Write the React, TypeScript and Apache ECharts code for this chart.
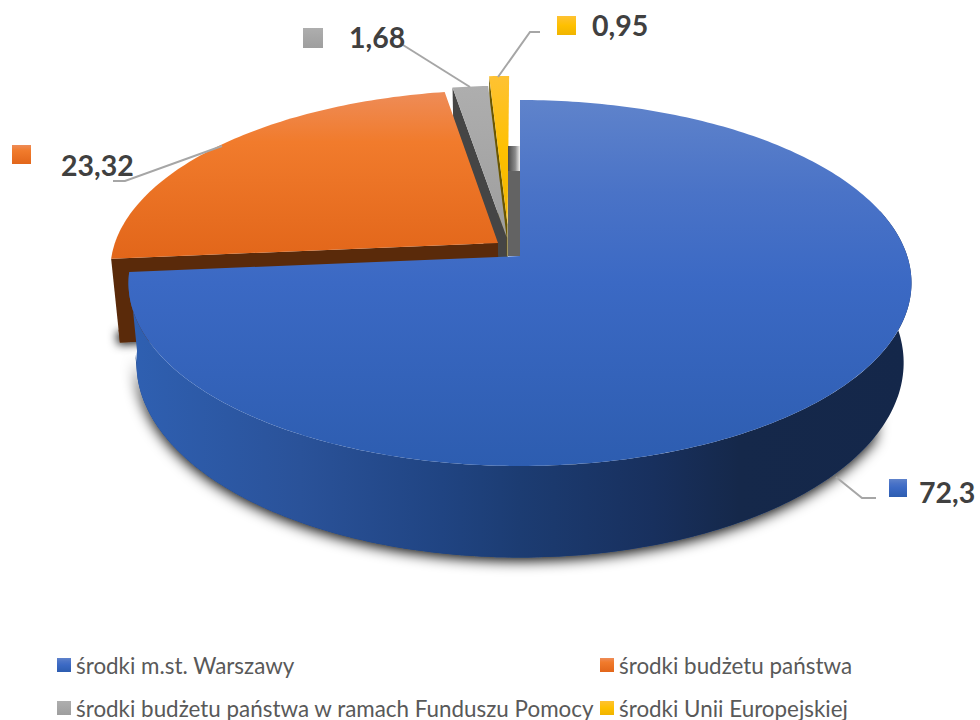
import React, { useEffect, useRef } from "react";
import * as echarts from "echarts";

const categories = [
  "środki m.st. Warszawy",
  "środki budżetu państwa",
  "środki budżetu państwa w ramach Funduszu Pomocy",
  "środki Unii Europejskiej",
];
const values = [72.3, 23.32, 1.68, 0.95];

// Slice styling and layout (not data)
const explosions = [[0, 0], [-0.0575, -0.0734], [-0.035, -0.107], [-0.033, -0.181]];
const seriesZ = [4, 3, 2, 1];
const wallColors = ["", "#5a2a0a", "#454545", "#6a5600"];
const wallHeights = [1, 1.07, 1, 1];
const faceStops: [number, string][][] = [
  [[0, "#5f83cb"], [0.25, "#4a73c7"], [0.5, "#3b69c4"], [1, "#2d5db0"]],
  [[0, "#ee8c58"], [0.3, "#f17b2c"], [1, "#e2661a"]],
  [[0, "#aeaeae"], [1, "#9e9e9e"]],
  [[0, "#fec233"], [0.5, "#fec000"], [1, "#f0b400"]],
];
const labelBoxes = [
  { tx: 919, ty: 492, sx: 889, sy: 479, ss: 18 },
  { tx: 61, ty: 165, sx: 12, sy: 145, ss: 19 },
  { tx: 349, ty: 37, sx: 303, sy: 28, ss: 20 },
  { tx: 592, ty: 25, sx: 557, sy: 16, ss: 19 },
];
const legendSpots = [
  { left: 57, top: 654 },
  { left: 600, top: 654 },
  { left: 57, top: 697 },
  { left: 600, top: 697 },
];
const leaders = [
  [[836, 477], [862, 498], [876, 498]],
  [[113, 181], [125, 181], [222, 146]],
  [[403, 45], [470, 87]],
  [[540, 32], [530, 32], [498, 77]],
];

// Perspective projection of the unit disc on to the page
const CX = 520;
const R = 387.2;
const PA = 141.25;
const PB = 256;
const PC = -0.1475;
const DEPTH = 78;
const SHRINK = 0.02;

function project(u: number, v: number, h: number): [number, number] {
  const w = 1 / (1 + PC * v);
  const x = R * u * w;
  const y = (PA * v + PB) * w;
  return [CX + x * (1 - SHRINK * h), y + DEPTH * w * h];
}

const total = values.reduce((a, b) => a + b, 0);

function grad(stops: [number, string][]) {
  return new echarts.graphic.LinearGradient(
    0, 0, 0, 1,
    stops.map(([offset, color]) => ({ offset, color }))
  );
}

function wallFill() {
  return new echarts.graphic.LinearGradient(0, 0, 1, 0, [
    { offset: 0, color: "#2f60b2" },
    { offset: 0.22, color: "#2a5299" },
    { offset: 0.4, color: "#204482" },
    { offset: 0.5, color: "#1c3c72" },
    { offset: 0.67, color: "#18305e" },
    { offset: 0.78, color: "#15284a" },
    { offset: 1, color: "#14274a" },
  ]);
}

function makeRenderItem(index: number) {
  return (_params: any, api: any) => {
    const value = api.value(0);
    const before = values.slice(0, index).reduce((a, b) => a + b, 0);
    const a0 = (before / total) * 360;
    const a1 = a0 + (value / total) * 360;
    const [du, dv] = explosions[index];
    const rim = (deg: number, h: number) => {
      const t = (deg * Math.PI) / 180;
      return project(Math.sin(t) + du, -Math.cos(t) + dv, h);
    };
    const arc = (from: number, to: number, h: number) => {
      const pts: [number, number][] = [];
      const n = Math.max(2, Math.ceil(Math.abs(to - from)));
      for (let i = 0; i <= n; i++) pts.push(rim(from + ((to - from) * i) / n, h));
      return pts;
    };
    const apexTop = project(du, dv, 0);
    const wallH = wallHeights[index];
    const apexBottom = project(du, dv, wallH);
    const children: any[] = [];

    if (index === 0) {
      // gap shadow behind the centre
      children.push({
        type: "polygon",
        shape: {
          points: [
            [apexTop[0] - 12, apexTop[1] - 86],
            [apexTop[0], apexTop[1] - 86],
            [apexTop[0], apexTop[1]],
            [apexTop[0] - 12, apexTop[1]],
          ],
        },
        style: { fill: "#636363" },
      });
      children.push({
        type: "polygon",
        shape: {
          points: [
            [apexTop[0] - 12, apexTop[1] - 110],
            [apexTop[0], apexTop[1] - 110],
            [apexTop[0], apexTop[1] - 85],
            [apexTop[0] - 12, apexTop[1] - 85],
          ],
        },
        style: {
          fill: new echarts.graphic.LinearGradient(0, 0, 1, 0, [
            { offset: 0, color: "#484848" },
            { offset: 0.6, color: "#8a8a8a" },
            { offset: 1, color: "#f0f0f0" },
          ]),
        },
      });
      // shadow-casting part of the outer wall, then the whole wall over it
      children.push({
        type: "polygon",
        shape: { points: [...arc(120, a1 - 8, 0.7), ...arc(a1 - 8, 120, 1)] },
        style: {
          fill: "#1c3c72",
          shadowBlur: 14,
          shadowColor: "rgba(0,0,0,1)",
          shadowOffsetY: 3,
        },
      });
      children.push({
        type: "polygon",
        shape: { points: [...arc(75, a1, 0), ...arc(a1, 75, 1)] },
        style: { fill: wallFill() },
      });
    } else {
      if (index === 1) {
        children.push({
          type: "polygon",
          shape: {
            points: [rim(a0, 0.85 * wallH), rim(a0, wallH), apexBottom, project(du, dv, 0.85 * wallH)],
          },
          style: {
            fill: wallColors[index],
            shadowBlur: 10,
            shadowColor: "rgba(0,0,0,0.9)",
            shadowOffsetX: -2,
            shadowOffsetY: 2,
          },
        });
      }
      children.push({
        type: "polygon",
        shape: { points: [apexTop, rim(a0, 0), rim(a0, wallH), apexBottom] },
        style: { fill: wallColors[index] },
      });
    }

    children.push({
      type: "polygon",
      shape: { points: [apexTop, ...arc(a0, a1, 0)] },
      style: { fill: grad(faceStops[index]) },
    });

    children.push({
      type: "polyline",
      shape: { points: leaders[index] },
      style: { stroke: "#a6a6a6", lineWidth: 2, fill: "none" },
    });

    const box = labelBoxes[index];
    children.push({
      type: "rect",
      shape: { x: box.sx, y: box.sy, width: box.ss, height: box.ss },
      style: { fill: grad(faceStops[index]) },
    });
    children.push({
      type: "text",
      x: box.tx,
      y: box.ty,
      style: {
        text: String(value).replace(".", ","),
        fill: "#404040",
        fontFamily: "Lato",
        fontWeight: "bold",
        fontSize: 28.5,
        textAlign: "left",
        textVerticalAlign: "middle",
      },
    });
    return { type: "group", children };
  };
}

export default function App() {
  const ref = useRef<HTMLDivElement>(null);
  useEffect(() => {
    document.body.style.margin = "0";
    const chart = echarts.init(ref.current!, undefined, { renderer: "svg" });
    chart.setOption({
      animation: false,
      backgroundColor: "#ffffff",
      legend: categories.map((name, i) => ({
        left: legendSpots[i].left,
        top: legendSpots[i].top,
        padding: 0,
        icon: "rect",
        itemWidth: 14,
        itemHeight: 14,
        selectedMode: false,
        textStyle: { color: "#595959", fontFamily: "Lato", fontSize: 22.4 },
        data: [name],
      })),
      series: categories.map((name, i) => ({
        type: "custom",
        name,
        coordinateSystem: "none",
        silent: true,
        clip: false,
        z: seriesZ[i],
        itemStyle: { color: grad(faceStops[i]) },
        data: [[values[i]]],
        renderItem: makeRenderItem(i),
      })),
    });
    return () => chart.dispose();
  }, []);
  return (
    <div
      ref={ref}
      style={{ position: "absolute", left: 0, top: 0, width: 980, height: 720 }}
    />
  );
}
